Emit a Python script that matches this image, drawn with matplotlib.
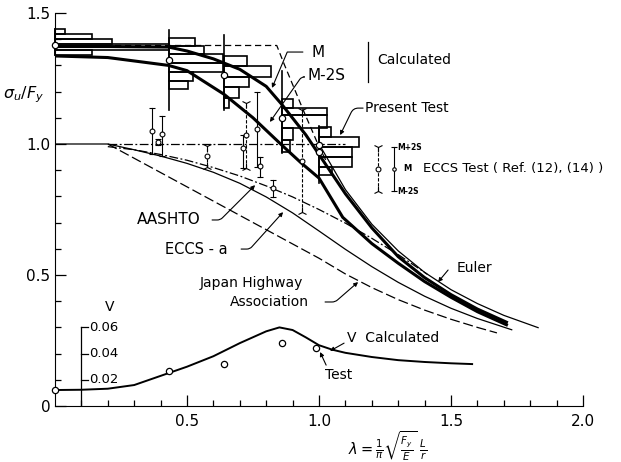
import numpy as np
import matplotlib
matplotlib.use('Agg')
import matplotlib.pyplot as plt

# --- column strength curves, sigma_u / Fy against lambda ---
lam_m = [0.0, 0.2, 0.43, 0.5, 0.6, 0.7, 0.8, 0.86, 0.95, 1.0, 1.1, 1.2, 1.3, 1.4, 1.5, 1.6, 1.71]
sig_m = [1.372, 1.372, 1.37, 1.355, 1.325, 1.285, 1.22, 1.15, 1.035, 0.96, 0.81, 0.68, 0.57, 0.49, 0.425, 0.37, 0.32]

lam_m2s = [0.0, 0.2, 0.43, 0.5, 0.64, 0.75, 0.86, 0.93, 1.0, 1.09, 1.2, 1.3, 1.4, 1.5, 1.6, 1.71]
sig_m2s = [1.336, 1.33, 1.30, 1.28, 1.19, 1.10, 0.995, 0.93, 0.87, 0.72, 0.62, 0.545, 0.475, 0.415, 0.36, 0.31]

lam_mdash = [0.0, 0.84, 0.87, 0.94, 1.0, 1.03]
sig_mdash = [1.376, 1.376, 1.30, 1.13, 0.99, 0.93]

lam_euler = [1.0, 1.1, 1.2, 1.3, 1.4, 1.5, 1.6, 1.7, 1.83]
sig_euler = [1.0, 0.826, 0.694, 0.592, 0.510, 0.444, 0.391, 0.346, 0.299]

lam_aashto = [0.2, 0.3, 0.4, 0.5, 0.6, 0.7, 0.8, 0.9, 1.0, 1.1, 1.2, 1.3, 1.41]
sig_aashto = [0.99, 0.978, 0.96, 0.938, 0.91, 0.878, 0.84, 0.798, 0.75, 0.698, 0.64, 0.578, 0.503]

lam_eccs = [0.0, 0.2, 0.3, 0.4, 0.5, 0.6, 0.7, 0.8, 0.9, 1.0, 1.1, 1.2, 1.3, 1.4, 1.5, 1.6, 1.73]
sig_eccs = [1.0, 1.0, 0.978, 0.954, 0.926, 0.892, 0.85, 0.798, 0.737, 0.668, 0.598, 0.532, 0.472, 0.419, 0.373, 0.334, 0.291]

lam_jha = [0.2, 0.4, 0.6, 0.8, 1.0, 1.1, 1.2, 1.3, 1.4, 1.5, 1.6, 1.674]
sig_jha = [1.0, 0.891, 0.782, 0.673, 0.564, 0.504, 0.452, 0.406, 0.366, 0.331, 0.300, 0.279]

# --- coefficient of variation V (plotted as 5*V) ---
V_SCALE = 5.0
lam_v = [0.0, 0.1, 0.2, 0.3, 0.4, 0.5, 0.6, 0.7, 0.8, 0.85, 0.9, 0.95, 1.0, 1.05, 1.1, 1.2, 1.3, 1.4, 1.5, 1.58]
v_calc = [0.0122, 0.0124, 0.0132, 0.016, 0.023, 0.030, 0.038, 0.048, 0.057, 0.060, 0.058, 0.0524,
          0.0464, 0.043, 0.0406, 0.0374, 0.035, 0.0336, 0.0326, 0.032]
lam_vtest = [0.0, 0.43, 0.64, 0.86, 0.99]
v_test = [0.0122, 0.027, 0.032, 0.0484, 0.0444]
v_ticks = [0.02, 0.04, 0.06]

# --- present test histograms: base lambda, bin edges (sigma), bar lengths (lambda) ---
hist_base = [0.0, 0.43, 0.64, 0.86, 1.0]
hist_edges = [
    [1.34, 1.36, 1.38, 1.40, 1.42, 1.44],
    [1.21, 1.24, 1.275, 1.31, 1.345, 1.375, 1.405],
    [1.136, 1.176, 1.216, 1.256, 1.296, 1.336],
    [0.97, 1.015, 1.06, 1.11, 1.137, 1.17],
    [0.882, 0.912, 0.95, 0.989, 1.027, 1.065],
]
hist_len = [
    [0.14, 0.43, 0.215, 0.14, 0.038],
    [0.072, 0.091, 0.208, 0.208, 0.133, 0.102],
    [0.019, 0.057, 0.095, 0.178, 0.087],
    [0.03, 0.04, 0.17, 0.17, 0.04],
    [0.049, 0.125, 0.125, 0.152, 0.045],
]
hist_stem = [(1.34, 1.44), (1.13, 1.435), (1.13, 1.416), (0.966, 1.28), (0.85, 1.07)]
mean_lam = [0.0, 0.43, 0.64, 0.86, 1.0, 1.0]
mean_sig = [1.378, 1.32, 1.263, 1.10, 0.996, 0.97]

# --- ECCS tests: lambda, M+2S, M, M-2S, kind ---
eccs_lam = [0.367, 0.405, 0.39, 0.576, 0.712, 0.723, 0.765, 0.777, 0.826, 0.936]
eccs_top = [1.137, 1.107, 1.02, 0.992, 1.035, 1.156, 1.199, 0.95, 0.863, 1.13]
eccs_mid = [1.05, 1.038, 1.008, 0.954, 0.985, 1.034, 1.057, 0.916, 0.832, 0.935]
eccs_bot = [0.962, 0.954, 0.996, 0.912, 0.908, 0.91, 0.912, 0.874, 0.798, 0.741]
eccs_kind = ['I', 'I', 'I', 'Y', 'I', 'Y', 'I', 'I', 'I', 'Y']

plt.rcParams['font.family'] = ['DejaVu Sans']
fig = plt.figure(figsize=(6.21, 4.62), dpi=100)
ax = fig.add_axes([55 / 621, 1 - 406 / 462, 528 / 621, 393 / 462])

thick = 2.2
thin = 0.9

ax.plot(lam_m, sig_m, 'k-', lw=thick)
ax.plot(lam_m2s, sig_m2s, 'k-', lw=thick)
ax.plot(lam_mdash, sig_mdash, 'k--', lw=thin, dashes=(5, 3))
ax.plot(lam_euler, sig_euler, 'k-', lw=thin)
ax.plot(lam_aashto, sig_aashto, 'k-.', lw=thin, dashes=(7, 2, 1.5, 2))
ax.plot(lam_eccs, sig_eccs, 'k-', lw=thin)
ax.plot(lam_jha, sig_jha, 'k--', lw=thin, dashes=(8, 3))
ax.plot([0.2, 1.1], [1.0, 1.0], 'k-.', lw=thin, dashes=(7, 2, 1.5, 2))

# histograms
for base, edges, lens, stem in zip(hist_base, hist_edges, hist_len, hist_stem):
    edges = np.array(edges)
    ax.barh(edges[:-1], lens, height=np.diff(edges), left=base, align='edge',
            fill=False, edgecolor='k', lw=1.2, clip_on=False)
    ax.plot([base, base], stem, 'k-', lw=1.2, clip_on=False)
ax.plot(mean_lam, mean_sig, 'o', mfc='white', mec='k', ms=4.5, mew=0.9, clip_on=False, zorder=5)

# ECCS test bars
for x, t, m, b, k in zip(eccs_lam, eccs_top, eccs_mid, eccs_bot, eccs_kind):
    if k == 'I':
        ax.plot([x, x], [b, t], 'k-', lw=0.8)
        ax.plot([x, x], [t, b], 'k_', ms=5, mew=0.8)
    else:
        ax.plot([x, x], [b, t], 'k--', lw=0.8, dashes=(3, 1.5))
        ax.plot(x, t, 'k1', ms=7, mew=0.8)
        ax.plot(x, b, 'k2', ms=7, mew=0.8)
    ax.plot(x, m, 'o', mfc='white', mec='k', ms=3.5, mew=0.8, zorder=5)

# legend symbols for ECCS tests
lx1, lx2 = 1.223, 1.284
ax.plot([lx1, lx1], [0.82, 0.989], 'k--', lw=0.8, dashes=(3, 1.5))
ax.plot(lx1, 0.989, 'k1', ms=7, mew=0.8)
ax.plot(lx1, 0.82, 'k2', ms=7, mew=0.8)
ax.plot(lx1, 0.905, 'o', mfc='white', mec='k', ms=3.5, mew=0.8)
ax.plot([lx2, lx2], [0.82, 0.989], 'k-', lw=0.8)
ax.plot([lx2, lx2], [0.82, 0.989], 'k_', ms=5, mew=0.8)
ax.plot(lx2, 0.905, 'o', mfc='white', mec='k', ms=2.5, mew=0.8)
ax.text(1.297, 0.985, 'M+2S', fontsize=5.5, fontweight='bold', va='center')
ax.text(1.318, 0.905, 'M', fontsize=6, fontweight='bold', va='center')
ax.text(1.297, 0.818, 'M-2S', fontsize=5.5, fontweight='bold', va='center')
ax.text(1.394, 0.905, 'ECCS Test ( Ref. (12), (14) )', fontsize=9.5, va='center')

# V curve and its own axis
ax.plot(lam_v, np.array(v_calc) * V_SCALE, 'k-', lw=1.4)
ax.plot(lam_vtest, np.array(v_test) * V_SCALE, 'o', mfc='white', mec='k', ms=4.5, mew=0.9,
        clip_on=False, zorder=5)
ax.plot([0.1, 0.1], [0, 0.302], 'k-', lw=0.9)
for v in v_ticks:
    ax.plot([0.1, 0.125], [v * V_SCALE] * 2, 'k-', lw=0.9)
    ax.text(0.13, v * V_SCALE, '%.2f' % v, fontsize=9.5, va='center', ha='left')
ax.text(0.208, 0.352, 'V', fontsize=10, ha='center', va='bottom')

# labels
kw = dict(fontsize=10, va='center')
ax.text(0.973, 1.351, 'M', fontsize=11, va='center')
ax.text(0.955, 1.262, 'M-2S', fontsize=11, va='center')
ax.plot([1.186, 1.186], [1.237, 1.389], 'k-', lw=0.9)
ax.text(1.22, 1.321, 'Calculated', **kw)
ax.text(1.174, 1.137, 'Present Test', **kw)
ax.text(0.311, 0.71, 'AASHTO', fontsize=11, va='center')
ax.text(0.417, 0.599, 'ECCS - a', fontsize=10.5, va='center')
ax.text(0.549, 0.469, 'Japan Highway', **kw)
ax.text(0.663, 0.397, 'Association', **kw)
ax.text(1.523, 0.527, 'Euler', **kw)
ax.text(1.106, 0.26, 'V  Calculated', **kw)
ax.text(1.023, 0.118, 'Test', **kw)


def leader(start, end, angle=None, rad=0):
    if angle is None:
        cs = 'arc3,rad=0'
    else:
        cs = 'angle,angleA=0,angleB=%d,rad=%d' % (angle, rad)
    ax.annotate('', xy=end, xytext=start,
                arrowprops=dict(arrowstyle='-|>', lw=0.8, color='k', mutation_scale=6,
                                shrinkA=0, shrinkB=0, connectionstyle=cs))


leader((0.939, 1.351), (0.822, 1.214), 67)
leader((0.943, 1.256), (0.814, 1.084), 55, 3)
leader((1.167, 1.137), (1.08, 1.034), 64, 5)
leader((0.595, 0.71), (0.758, 0.843), 45, 3)
leader((0.705, 0.599), (0.864, 0.74), 48, 3)
leader((1.023, 0.397), (1.148, 0.473), 41, 3)
leader((1.489, 0.519), (1.451, 0.473))
leader((1.095, 0.24), (1.042, 0.21))
leader((1.027, 0.156), (1.004, 0.206))

# axes
ax.set_xlim(0, 2.0)
ax.set_ylim(0, 1.5)
ax.spines['top'].set_visible(False)
ax.spines['right'].set_visible(False)
ax.set_xticks([0.5, 1.0, 1.5, 2.0])
ax.set_xticklabels(['0.5', '1.0', '1.5', '2.0'])
ax.set_xticks(np.arange(0.1, 2.0, 0.1), minor=True)
ax.set_yticks([0, 0.5, 1.0, 1.5])
ax.set_yticklabels(['0', '0.5', '1.0', '1.5'])
ax.set_yticks(np.arange(0.1, 1.5, 0.1), minor=True)
ax.tick_params(which='both', direction='in', width=0.9, labelsize=11)
ax.tick_params(which='major', length=8)
ax.tick_params(which='minor', length=4)
ax.tick_params(axis='x', pad=6)

fig.text(23 / 621, 1 - 95 / 462, r'$\sigma_u/F_y$', fontsize=11.5, ha='center', va='center')
fig.text(388 / 621, 1 - 446 / 462,
         r'$\lambda = \frac{1}{\pi}\sqrt{\frac{F_y}{E}}\ \frac{L}{r}$',
         fontsize=10.5, ha='center', va='center')

fig.savefig('out.png', dpi=100)
